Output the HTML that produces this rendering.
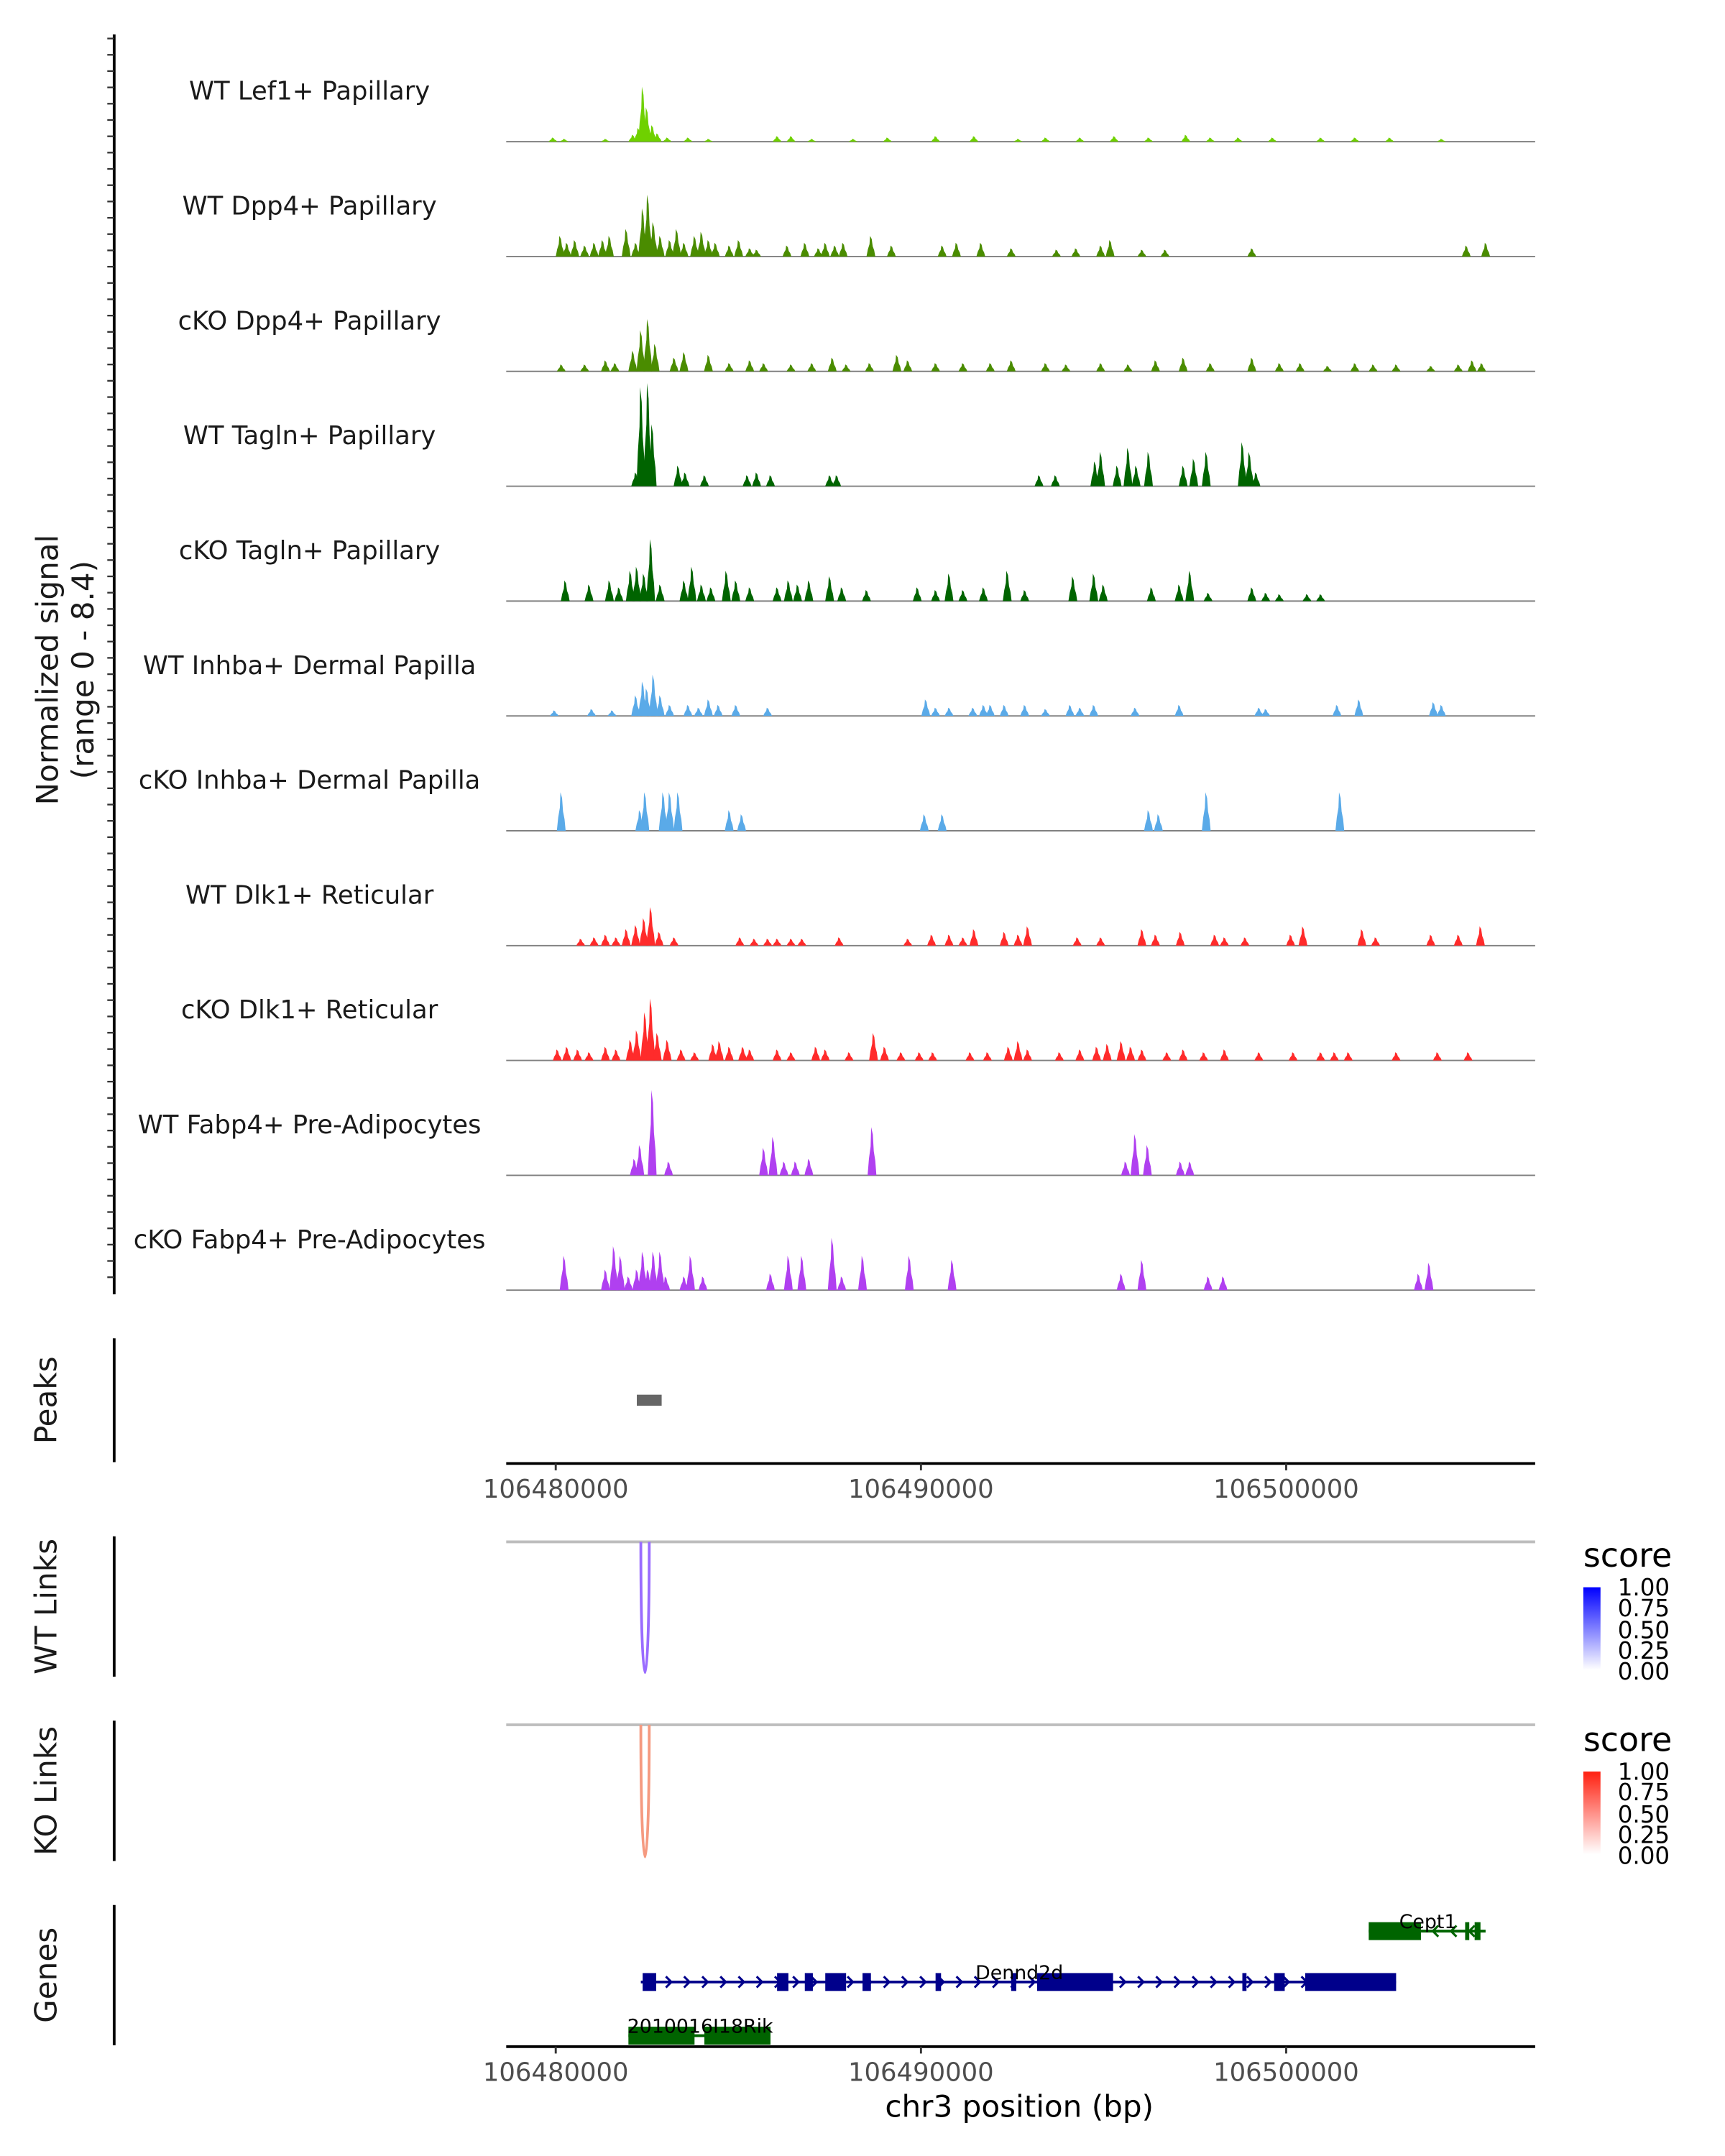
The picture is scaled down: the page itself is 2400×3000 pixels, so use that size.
<!DOCTYPE html>
<html><head><meta charset="utf-8"><style>
html,body{margin:0;padding:0;background:#fff;}
svg{display:block;font-family:"DejaVu Sans","Liberation Sans",sans-serif;}
</style></head><body>
<svg id="chart" width="2400" height="3000" viewBox="0 0 1254 1567.5" xmlns="http://www.w3.org/2000/svg">
<defs>
<linearGradient id="gBlue" x1="0" y1="1" x2="0" y2="0"><stop offset="0" stop-color="#ffffff"/><stop offset="1" stop-color="#0000ff"/></linearGradient>
<linearGradient id="gRed" x1="0" y1="1" x2="0" y2="0"><stop offset="0" stop-color="#ffffff"/><stop offset="1" stop-color="#ff2010"/></linearGradient>
</defs>
<g id="tracks"></g>
<line x1="83" y1="25" x2="83" y2="941" stroke="#000" stroke-width="2"/>
<g id="yticks"></g>
<text transform="translate(42,487) rotate(-90)" text-anchor="middle" font-size="22" fill="#1a1a1a">Normalized signal</text>
<text transform="translate(68,487) rotate(-90)" text-anchor="middle" font-size="22" fill="#1a1a1a">(range 0 - 8.4)</text>

<line x1="83" y1="973" x2="83" y2="1063" stroke="#000" stroke-width="2"/>
<text transform="translate(41,1018) rotate(-90)" text-anchor="middle" font-size="22" fill="#1a1a1a">Peaks</text>
<g id="peaks"></g>
<g id="axis1"></g>

<line x1="83" y1="1117" x2="83" y2="1219" stroke="#000" stroke-width="2"/>
<text transform="translate(41,1168) rotate(-90)" text-anchor="middle" font-size="22" fill="#1a1a1a">WT Links</text>
<line x1="368" y1="1121" x2="1116" y2="1121" stroke="#bdbdbd" stroke-width="2"/>
<g id="wtlinks"></g>

<line x1="83" y1="1251" x2="83" y2="1353" stroke="#000" stroke-width="2"/>
<text transform="translate(41,1302) rotate(-90)" text-anchor="middle" font-size="22" fill="#1a1a1a">KO Links</text>
<line x1="368" y1="1254" x2="1116" y2="1254" stroke="#bdbdbd" stroke-width="2"/>
<g id="kolinks"></g>

<g>
<text x="1151" y="1139" font-size="24" fill="#000">score</text>
<rect x="1151" y="1154" width="12.5" height="60" fill="url(#gBlue)"/>
<g font-size="17" fill="#000"><text x="1176" y="1160">1.00</text><text x="1176" y="1175">0.75</text><text x="1176" y="1191">0.50</text><text x="1176" y="1206">0.25</text><text x="1176" y="1221">0.00</text></g>
</g>
<g>
<text x="1151" y="1273" font-size="24" fill="#000">score</text>
<rect x="1151" y="1288" width="12.5" height="60" fill="url(#gRed)"/>
<g font-size="17" fill="#000"><text x="1176" y="1294">1.00</text><text x="1176" y="1309">0.75</text><text x="1176" y="1325">0.50</text><text x="1176" y="1340">0.25</text><text x="1176" y="1355">0.00</text></g>
</g>

<line x1="83" y1="1385" x2="83" y2="1487" stroke="#000" stroke-width="2"/>
<text transform="translate(41,1436) rotate(-90)" text-anchor="middle" font-size="22" fill="#1a1a1a">Genes</text>
<g id="genes"></g>
<g id="axis2"></g>
<text x="741" y="1539" text-anchor="middle" font-size="22" fill="#000">chr3 position (bp)</text>
</svg>
<script>
// ---- data (positions in kb from 106480000, values = normalized signal) ----
const trackNames = ["WT Lef1+ Papillary","WT Dpp4+ Papillary","cKO Dpp4+ Papillary","WT Tagln+ Papillary","cKO Tagln+ Papillary","WT Inhba+ Dermal Papilla","cKO Inhba+ Dermal Papilla","WT Dlk1+ Reticular","cKO Dlk1+ Reticular","WT Fabp4+ Pre-Adipocytes","cKO Fabp4+ Pre-Adipocytes"];
const trackColors = ["#6fd100","#4a8c00","#4a8c00","#006400","#006400","#5aaae8","#5aaae8","#ff2b2b","#ff2b2b","#b040f0","#b040f0"];
const pos0 = [-0.08,0.23,1.36,2.11,2.26,2.38,2.49,2.64,2.78,3.05,3.62,4.18,6.06,6.44,7.01,8.14,9.08,10.4,11.45,12.66,13.41,14.35,15.29,16.23,17.25,17.92,18.68,19.62,20.94,21.88,22.83,24.25];
const val0 = [0.3,0.2,0.2,0.5,1.0,4.0,2.5,1.2,0.6,0.3,0.3,0.2,0.4,0.4,0.2,0.2,0.3,0.4,0.4,0.2,0.3,0.3,0.4,0.3,0.5,0.3,0.3,0.3,0.3,0.3,0.3,0.2];
const pos1 = [0.12,0.3,0.52,0.79,1.05,1.28,1.47,1.93,2.19,2.38,2.52,2.67,2.86,3.12,3.31,3.51,3.8,3.99,4.18,4.37,4.75,5.01,5.31,5.5,6.33,6.82,7.19,7.38,7.64,7.87,8.63,9.19,10.58,10.97,11.64,12.47,13.71,14.24,14.92,15.18,16.05,16.68,19.06,24.93,25.46];
const val1 = [1.5,1.0,1.2,0.8,1.0,1.2,1.5,2.0,1.0,3.5,4.5,2.5,1.5,1.2,2.0,1.0,1.5,1.8,1.2,1.0,0.8,1.2,0.6,0.5,0.8,1.0,0.6,1.0,0.8,1.0,1.5,0.8,0.8,1.0,1.0,0.6,0.5,0.6,0.8,1.2,0.5,0.5,0.6,0.8,1.0];
const pos2 = [0.15,0.79,1.36,1.62,2.11,2.33,2.52,2.72,3.24,3.51,4.18,4.75,5.31,5.69,6.44,7.01,7.57,7.95,8.59,9.34,9.64,10.4,11.15,11.9,12.47,13.41,13.97,14.92,15.67,16.42,17.18,17.92,19.06,19.81,20.38,21.13,21.88,22.38,23.01,23.96,24.71,25.09,25.35];
const val2 = [0.5,0.5,0.8,0.6,1.5,3.0,3.8,2.0,1.0,1.4,1.2,0.6,0.8,0.6,0.5,0.6,1.0,0.5,0.6,1.2,0.8,0.6,0.6,0.6,0.8,0.6,0.5,0.6,0.5,0.8,1.0,0.6,1.0,0.6,0.6,0.4,0.6,0.5,0.5,0.4,0.5,0.8,0.6];
const pos3 = [2.19,2.33,2.52,2.64,3.35,3.54,4.07,5.24,5.5,5.88,7.5,7.69,13.23,13.68,14.76,14.92,15.37,15.67,15.89,16.23,17.18,17.47,17.81,18.8,18.99,19.17];
const val3 = [1.0,7.2,7.5,4.5,1.5,1.0,0.8,0.8,1.0,0.8,0.8,0.8,0.8,0.8,1.8,2.5,1.5,2.8,1.5,2.5,1.5,2.0,2.5,3.2,2.5,1.0];
const pos4 = [0.26,0.91,1.47,1.73,2.04,2.22,2.41,2.6,2.86,3.51,3.73,3.99,4.25,4.67,4.93,5.31,6.06,6.37,6.62,6.93,7.5,7.83,8.51,9.9,10.4,10.77,11.15,11.71,12.36,12.84,14.16,14.73,14.99,16.31,17.07,17.36,17.86,19.06,19.44,19.81,20.57,20.94];
const val4 = [1.5,1.2,1.5,1.0,2.2,2.5,2.0,4.5,1.2,1.5,2.5,1.2,1.0,2.2,1.5,1.0,1.0,1.5,1.2,1.5,1.8,1.0,0.8,1.0,0.8,2.0,0.8,1.0,2.2,0.8,1.8,2.0,1.2,1.0,1.2,2.2,0.6,1.0,0.6,0.5,0.5,0.5];
const pos5 = [-0.04,0.98,1.54,2.19,2.38,2.49,2.67,2.86,3.12,3.62,3.91,4.18,4.45,4.93,5.8,10.13,10.4,10.77,11.42,11.71,11.9,12.28,12.84,13.41,14.08,14.35,14.73,15.86,17.07,19.25,19.44,21.39,21.99,24.03,24.25];
const val5 = [0.4,0.5,0.4,1.5,2.5,2.0,3.0,1.5,0.8,0.8,0.6,1.2,0.8,0.8,0.6,1.2,0.6,0.6,0.6,0.8,0.8,0.8,0.8,0.5,0.8,0.6,0.8,0.6,0.8,0.6,0.5,0.8,1.2,1.0,0.8];
const pos6 = [0.15,2.3,2.44,2.94,3.12,3.35,4.75,5.09,10.09,10.58,16.23,16.5,17.81,21.47];
const val6 = [2.8,1.5,2.8,2.8,2.8,2.8,1.5,1.2,1.2,1.2,1.5,1.2,2.8,2.8];
const pos7 = [0.68,1.05,1.36,1.65,1.93,2.19,2.41,2.6,2.83,3.24,5.04,5.43,5.8,6.06,6.44,6.74,7.76,9.64,10.29,10.77,11.15,11.45,12.28,12.66,12.92,14.28,14.92,16.05,16.42,17.1,18.04,18.31,18.87,20.12,20.46,22.07,22.45,23.96,24.71,25.32];
const val7 = [0.5,0.6,0.8,0.6,1.2,1.5,2.0,2.8,1.0,0.6,0.6,0.5,0.5,0.5,0.5,0.5,0.6,0.5,0.8,0.8,0.6,1.2,1.0,0.8,1.4,0.6,0.6,1.2,0.8,1.0,0.8,0.6,0.6,0.8,1.4,1.2,0.6,0.8,0.8,1.4];
const pos8 = [0.04,0.3,0.6,0.91,1.36,1.65,2.04,2.22,2.44,2.6,2.78,3.05,3.43,3.8,4.3,4.48,4.75,5.12,5.31,6.06,6.44,7.12,7.38,8.03,8.7,9.0,9.45,9.95,10.32,11.34,11.82,12.39,12.66,12.92,13.79,14.35,14.81,15.1,15.48,15.74,16.05,16.73,17.18,17.74,18.31,19.25,20.19,20.94,21.32,21.7,23.01,24.14,24.98];
const val8 = [0.8,1.0,0.8,0.6,1.0,0.8,1.5,2.2,3.5,4.5,2.0,1.5,0.8,0.6,1.2,1.4,1.0,1.0,0.8,0.8,0.6,1.0,0.8,0.6,2.0,1.0,0.6,0.6,0.6,0.6,0.6,1.0,1.4,0.8,0.6,0.8,1.0,1.2,1.4,1.0,0.8,0.6,0.8,0.6,0.8,0.6,0.6,0.6,0.6,0.6,0.6,0.6,0.6];
const pos9 = [2.15,2.3,2.64,3.09,5.69,5.95,6.25,6.56,6.93,8.66,15.6,15.86,16.2,17.1,17.36];
const val9 = [1.2,2.2,6.2,1.0,2.0,2.8,1.0,1.0,1.2,3.5,1.0,3.0,2.2,1.0,1.0];
const pos10 = [0.23,1.36,1.59,1.77,1.99,2.22,2.38,2.52,2.67,2.86,3.01,3.51,3.69,4.03,5.88,6.37,6.74,7.57,7.83,8.4,9.68,10.85,15.48,16.05,17.86,18.27,23.62,23.91];
const val10 = [2.5,1.5,3.2,2.5,1.0,1.5,2.8,1.5,2.8,2.8,1.0,1.0,2.5,1.0,1.2,2.5,2.5,3.8,1.0,2.5,2.5,2.2,1.2,2.2,1.0,1.0,1.2,2.0];
const trackPositions = [pos0,pos1,pos2,pos3,pos4,pos5,pos6,pos7,pos8,pos9,pos10];
const trackValues = [val0,val1,val2,val3,val4,val5,val6,val7,val8,val9,val10];
const xTicks = [0,10,20];
const xTickLabels = ["106480000","106490000","106500000"];
const peakRanges = [[2.22,2.9]];
const wtLinks = [[2.33,2.56,0.6]];
const koLinks = [[2.33,2.56,0.5]];
const dennd2dSpan = [2.33,23.01];
const dennd2dExons = [[2.38,2.75],[6.06,6.37],[6.82,7.04],[7.38,7.95],[8.4,8.63],[10.4,10.55],[12.47,12.61],[13.18,15.26],[18.8,18.91],[19.67,19.96],[20.52,23.01]];
const cept1Span = [22.26,25.46];
const cept1Exons = [[22.26,23.69],[24.9,25.01],[25.16,25.32]];
const rikSpan = [1.99,5.88];
const rikExons = [[1.99,3.8],[4.07,5.88]];

// ---- scales ----
const NS="http://www.w3.org/2000/svg";
function xS(kb){return 404+kb*26.55;}
function yS(v,base){return base - v*10;}
function mk(tag,attrs,parent){const e=document.createElementNS(NS,tag);for(const k in attrs)e.setAttribute(k,attrs[k]);parent.appendChild(e);return e;}

const tracksG=document.getElementById('tracks');
for(let t=0;t<trackNames.length;t++){
  const base=103+t*83.5;
  const g=mk('g',{},tracksG);
  
  
  const lab=mk('text',{x:225,y:base-30.5,'text-anchor':'middle','font-size':18.5,fill:'#1a1a1a'},g);
  lab.textContent=trackNames[t];
  
  
  const ln=mk('line',{x1:368,x2:1116,y1:base,y2:base,stroke:'#808080','stroke-width':1},g);
  
  
  const P=trackPositions[t],V=trackValues[t];
  for(let i=0;i<P.length;i++){
    const x=xS(P[i]),top=yS(V[i],base),h=base-top;
    const pts=[[x-3.2,base],[x-2.2,base-h*0.35],[x-1,base-h*0.6],[x-0.6,top],[x+0.6,base-h*0.85],[x+1.3,base-h*0.5],[x+2.4,base-h*0.3],[x+3.2,base]];
    const p=mk('polygon',{points:pts.map(a=>a[0].toFixed(1)+','+a[1].toFixed(1)).join(' '),fill:trackColors[t]},g);
    
    
  }
}
// y ticks
const yt=document.getElementById('yticks');
for(let y=28;y<=940;y+=11.85){mk('line',{x1:78,x2:83,y1:y,y2:y,stroke:'#333','stroke-width':1.2},yt);}

// peaks
const pk=document.getElementById('peaks');
peakRanges.forEach(r=>{const e=mk('rect',{x:xS(r[0]),y:1014,width:xS(r[1])-xS(r[0]),height:8,fill:'#666'},pk);

});

function axis(id,y){
  const g=document.getElementById(id);
  mk('line',{x1:368,x2:1116,y1:y,y2:y,stroke:'#000','stroke-width':2},g);
  xTicks.forEach((k,i)=>{mk('line',{x1:xS(k),x2:xS(k),y1:y,y2:y+5,stroke:'#333','stroke-width':1.5},g);
    const t=mk('text',{x:xS(k),y:y+25,'text-anchor':'middle','font-size':18.5,fill:'#4d4d4d'},g);t.textContent=xTickLabels[i];
    
    });
}
axis('axis1',1064);axis('axis2',1488);

function links(id,arr,base,depth,color){
  const g=document.getElementById(id);
  arr.forEach(l=>{const x1=xS(l[0]),x2=xS(l[1]);const c=base+depth/0.75;
    const p=mk('path',{d:`M${x1},${base} C${x1},${c} ${x2},${c} ${x2},${base}`,fill:'none',stroke:color,'stroke-width':2},g);
    
    });
}
links('wtlinks',wtLinks,1121,95,'#9a6cff');
links('kolinks',koLinks,1254,96,'#f59a80');

// genes
const gg=document.getElementById('genes');
function gene(name,span,exons,y,h,color,dir,lx,ly){
  const g=mk('g',{},gg);
  
  
  mk('line',{x1:xS(span[0]),x2:xS(span[1]),y1:y,y2:y,stroke:color,'stroke-width':2},g);
  if(dir){for(let x=xS(span[0])+8;x<xS(span[1])-4;x+=13.2){
    const d=dir>0?`M${x-3},${y-4} L${x+1},${y} L${x-3},${y+4}`:`M${x+3},${y-4} L${x-1},${y} L${x+3},${y+4}`;
    mk('path',{d:d,fill:'none',stroke:color,'stroke-width':1.6},g);}}
  exons.forEach(e=>mk('rect',{x:xS(e[0]),y:y-h/2,width:Math.max(3,xS(e[1])-xS(e[0])),height:h,fill:color},g));
  const t=mk('text',{x:lx,y:ly,'text-anchor':'middle','font-size':14,fill:'#000'},g);t.textContent=name;
}
gene('Dennd2d',dennd2dSpan,dennd2dExons,1441,13,'#00008b',1,741,1439);
gene('Cept1',cept1Span,cept1Exons,1404,13,'#006400',-1,1038,1402);
gene('2010016I18Rik',rikSpan,rikExons,1480,13,'#006400',0,509,1478);
</script>
</body></html>
